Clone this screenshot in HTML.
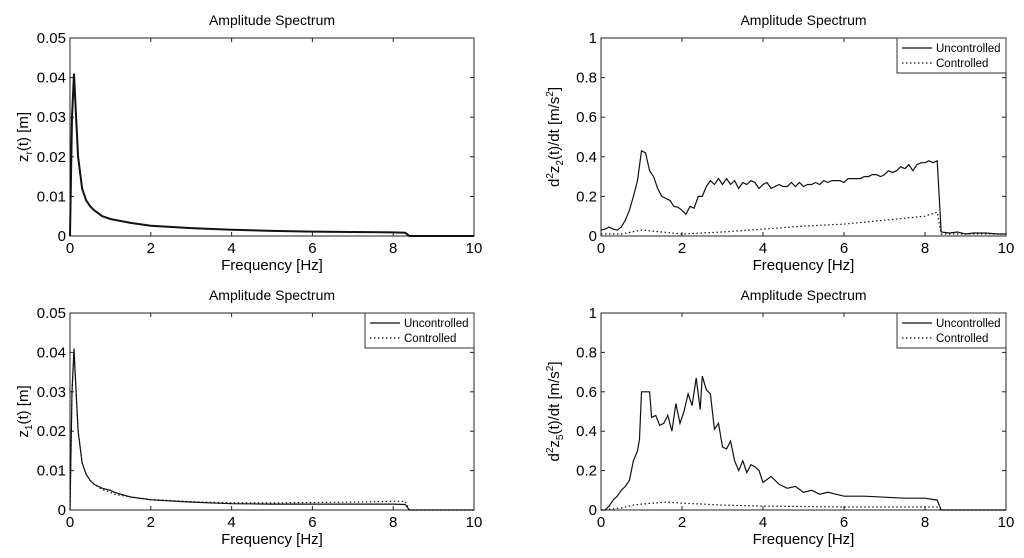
<!DOCTYPE html>
<html><head><meta charset="utf-8"><style>
html,body{margin:0;padding:0;background:#fff;width:1024px;height:558px;overflow:hidden}
svg{display:block;font-family:"Liberation Sans",sans-serif}
</style></head><body>
<svg id="fig" width="1024" height="558" viewBox="0 0 1024 558"></svg>
<script>
const xTicks=[0,2,4,6,8,10];
const xTickLabels=["0","2","4","6","8","10"];
const yTicksSmall=[0,0.01,0.02,0.03,0.04,0.05];
const yTickLabelsSmall=["0","0.01","0.02","0.03","0.04","0.05"];
const yTicksAcc=[0,0.2,0.4,0.6,0.8,1];
const yTickLabelsAcc=["0","0.2","0.4","0.6","0.8","1"];

const zrFreq=[0,0.05,0.1,0.15,0.2,0.3,0.4,0.5,0.6,0.8,1,1.5,2,3,4,5,6,7,8,8.3,8.4,10];
const zrAmp=[0,0.03,0.041,0.03,0.02,0.012,0.009,0.0075,0.0065,0.005,0.0043,0.0033,0.0026,0.002,0.0016,0.0013,0.0011,0.001,0.0009,0.0008,0,0];

const z1Freq=[0,0.05,0.1,0.15,0.2,0.3,0.4,0.5,0.6,0.8,1,1.1,1.5,2,3,4,5,6,7,8,8.3,8.4,10];
const z1Unc=[0,0.03,0.041,0.03,0.02,0.012,0.009,0.0075,0.0065,0.0055,0.005,0.0045,0.0033,0.0026,0.002,0.0016,0.0015,0.0015,0.0015,0.0015,0.0014,0,0];
const z1Con=[0,0.03,0.04,0.03,0.02,0.012,0.009,0.0075,0.0065,0.0052,0.0045,0.004,0.0033,0.0027,0.0021,0.0018,0.0018,0.0019,0.002,0.0022,0.0022,0,0];

const z2Freq=[0,0.1,0.2,0.3,0.4,0.5,0.6,0.7,0.8,0.9,1.0,1.1,1.2,1.3,1.4,1.5,1.6,1.7,1.8,1.9,2.0,2.1,2.2,2.3,2.4,2.5,2.6,2.7,2.8,2.9,3.0,3.1,3.2,3.3,3.4,3.5,3.6,3.7,3.8,3.9,4.0,4.1,4.2,4.3,4.4,4.5,4.6,4.7,4.8,4.9,5.0,5.1,5.2,5.3,5.4,5.5,5.6,5.7,5.8,5.9,6.0,6.1,6.2,6.3,6.4,6.5,6.6,6.7,6.8,6.9,7.0,7.1,7.2,7.3,7.4,7.5,7.6,7.7,7.8,7.9,8.0,8.1,8.2,8.3,8.4,8.6,8.8,9.0,9.2,9.5,9.8,10];
const z2Unc=[0.03,0.035,0.045,0.035,0.03,0.045,0.08,0.13,0.2,0.28,0.43,0.42,0.33,0.3,0.24,0.2,0.19,0.18,0.15,0.145,0.13,0.11,0.15,0.14,0.2,0.2,0.25,0.28,0.26,0.29,0.26,0.29,0.26,0.28,0.24,0.27,0.26,0.28,0.27,0.24,0.26,0.27,0.24,0.25,0.26,0.25,0.25,0.27,0.25,0.27,0.25,0.26,0.26,0.27,0.26,0.28,0.27,0.28,0.28,0.28,0.27,0.29,0.29,0.29,0.29,0.3,0.3,0.31,0.31,0.3,0.31,0.33,0.32,0.33,0.35,0.34,0.36,0.33,0.36,0.37,0.37,0.38,0.37,0.38,0.02,0.015,0.02,0.01,0.015,0.015,0.01,0.01];
const z2ConFreq=[0,0.5,1,1.5,2,3,4,5,6,7,8,8.3,8.4,10];
const z2Con=[0.01,0.01,0.03,0.02,0.01,0.02,0.035,0.05,0.06,0.08,0.1,0.12,0.01,0.01];

const z5Freq=[0,0.1,0.2,0.3,0.4,0.5,0.6,0.7,0.8,0.9,0.95,1.0,1.1,1.2,1.25,1.35,1.45,1.55,1.65,1.75,1.85,1.95,2.05,2.15,2.25,2.35,2.45,2.5,2.6,2.7,2.8,2.9,3.0,3.1,3.2,3.3,3.4,3.5,3.6,3.7,3.8,3.9,4.0,4.2,4.4,4.6,4.8,5.0,5.2,5.4,5.6,5.8,6.0,6.5,7.0,7.5,8.0,8.3,8.4,10];
const z5Unc=[0,0,0.02,0.05,0.07,0.1,0.12,0.15,0.25,0.3,0.36,0.6,0.6,0.6,0.47,0.48,0.43,0.44,0.48,0.4,0.54,0.44,0.5,0.59,0.53,0.67,0.51,0.68,0.61,0.59,0.41,0.44,0.32,0.31,0.35,0.25,0.2,0.25,0.19,0.23,0.22,0.2,0.14,0.17,0.13,0.11,0.12,0.09,0.1,0.08,0.09,0.08,0.07,0.07,0.065,0.06,0.06,0.05,0,0];
const z5ConFreq=[0,0.5,0.8,1,1.3,1.6,2,2.5,3,4,5,6,7,8,8.3,8.4,10];
const z5Con=[0,0.01,0.025,0.03,0.035,0.04,0.035,0.03,0.025,0.02,0.018,0.015,0.015,0.015,0.015,0,0];

const NS="http://www.w3.org/2000/svg";
const fig=document.getElementById('fig');
function mk(tag,attrs,parent){const e=document.createElementNS(NS,tag);for(const k in attrs)e.setAttribute(k,attrs[k]);(parent||fig).appendChild(e);return e;}

function panel(name,box,yMax,yTicks,yLabels,yTitleHtml,series,legend){
  const g=mk('g',{});
  
  
  const sx=v=>box.x0+(v/10)*(box.x1-box.x0);
  const sy=v=>box.y1-(v/yMax)*(box.y1-box.y0);
  const t=mk('text',{x:(box.x0+box.x1)/2,y:box.y0-13,'text-anchor':'middle','font-size':14},g);
  t.textContent='Amplitude Spectrum';
  
  
  const fr=mk('rect',{x:box.x0,y:box.y0,width:box.x1-box.x0,height:box.y1-box.y0,fill:'none',stroke:'#222','stroke-width':1},g);
  
  
  xTicks.forEach((v,i)=>{
    const x=sx(v);
    mk('line',{x1:x,x2:x,y1:box.y1,y2:box.y1-4,stroke:'#222'},g);
    mk('line',{x1:x,x2:x,y1:box.y0,y2:box.y0+4,stroke:'#222'},g);
    const l=mk('text',{x:x,y:box.y1+17,'text-anchor':'middle','font-size':15},g);
    l.textContent=xTickLabels[i];
    
    
  });
  yTicks.forEach((v,i)=>{
    const y=sy(v);
    mk('line',{x1:box.x0,x2:box.x0+4,y1:y,y2:y,stroke:'#222'},g);
    mk('line',{x1:box.x1,x2:box.x1-4,y1:y,y2:y,stroke:'#222'},g);
    const l=mk('text',{x:box.x0-4,y:y+5,'text-anchor':'end','font-size':15},g);
    l.textContent=yLabels[i];
    
    
  });
  const xt=mk('text',{x:(box.x0+box.x1)/2,y:box.y1+34,'text-anchor':'middle','font-size':15},g);
  xt.textContent='Frequency [Hz]';
  
  
  const yt=mk('text',{transform:`translate(${box.x0-42},${(box.y0+box.y1)/2}) rotate(-90)`,'text-anchor':'middle','font-size':15},g);
  yt.innerHTML=yTitleHtml;
  
  
  series.forEach(s=>{
    const d=s.x.map((v,i)=>(i?'L':'M')+sx(v).toFixed(1)+','+sy(s.y[i]).toFixed(1)).join('');
    const p=mk('path',{d:d,fill:'none',stroke:'#111','stroke-width':s.w||1.2,'stroke-dasharray':s.dash?'1.5,2.5':'none'},g);
    
    
  });
  if(legend){
    const lg=mk('g',{},g);
    
    
    const lx=box.x1-109,ly=box.y0;
    mk('rect',{x:lx,y:ly,width:109,height:35,fill:'#fff',stroke:'#333'},lg);
    mk('line',{x1:lx+5,x2:lx+35,y1:ly+10,y2:ly+10,stroke:'#111','stroke-width':1.2},lg);
    mk('line',{x1:lx+5,x2:lx+35,y1:ly+25,y2:ly+25,stroke:'#111','stroke-width':1.2,'stroke-dasharray':'1.5,2.5'},lg);
    const a=mk('text',{x:lx+39,y:ly+14,'font-size':11.5},lg);a.textContent='Uncontrolled';
    
    
    const b=mk('text',{x:lx+39,y:ly+29,'font-size':11.5},lg);b.textContent='Controlled';
    
    
  }
}

panel('panel-zr',{x0:70,x1:474,y0:38,y1:236},0.05,yTicksSmall,yTickLabelsSmall,
  'z<tspan dy="4" font-size="10">r</tspan><tspan dy="-4">(t) [m]</tspan>',
  [{x:zrFreq,y:zrAmp,name:'zr-line',w:2}],false);
panel('panel-z2',{x0:601,x1:1006,y0:38,y1:236},1,yTicksAcc,yTickLabelsAcc,
  'd<tspan dy="-6" font-size="10">2</tspan><tspan dy="6">z</tspan><tspan dy="4" font-size="10">2</tspan><tspan dy="-4">(t)/dt [m/s</tspan><tspan dy="-6" font-size="10">2</tspan><tspan dy="6">]</tspan>',
  [{x:z2Freq,y:z2Unc,name:'z2-uncontrolled-line'},{x:z2ConFreq,y:z2Con,name:'z2-controlled-line',dash:true}],true);
panel('panel-z1',{x0:70,x1:474,y0:313,y1:510},0.05,yTicksSmall,yTickLabelsSmall,
  'z<tspan dy="4" font-size="10">1</tspan><tspan dy="-4">(t) [m]</tspan>',
  [{x:z1Freq,y:z1Unc,name:'z1-uncontrolled-line'},{x:z1Freq,y:z1Con,name:'z1-controlled-line',dash:true}],true);
panel('panel-z5',{x0:601,x1:1006,y0:313,y1:510},1,yTicksAcc,yTickLabelsAcc,
  'd<tspan dy="-6" font-size="10">2</tspan><tspan dy="6">z</tspan><tspan dy="4" font-size="10">5</tspan><tspan dy="-4">(t)/dt [m/s</tspan><tspan dy="-6" font-size="10">2</tspan><tspan dy="6">]</tspan>',
  [{x:z5Freq,y:z5Unc,name:'z5-uncontrolled-line'},{x:z5ConFreq,y:z5Con,name:'z5-controlled-line',dash:true}],true);
</script>
</body></html>
